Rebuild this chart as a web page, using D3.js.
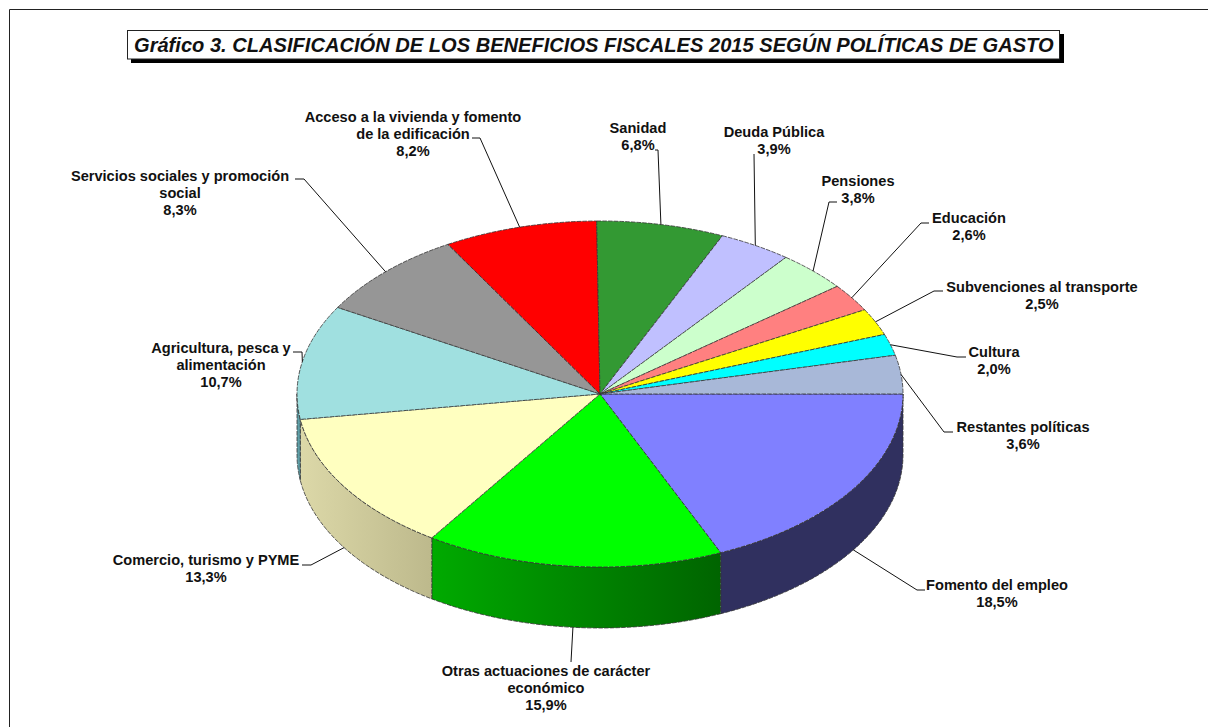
<!DOCTYPE html>
<html><head><meta charset="utf-8">
<style>html,body{margin:0;padding:0;background:#fff}svg{display:block}text{font-family:"Liberation Sans",Arial,sans-serif;font-weight:bold;fill:#111}</style>
<script src="https://cdn.jsdelivr.net/npm/d3@7"></script></head><body>
<script>
const categories=["Fomento del empleo","Otras actuaciones de carácter económico","Comercio, turismo y PYME","Agricultura, pesca y alimentación","Servicios sociales y promoción social","Acceso a la vivienda y fomento de la edificación","Sanidad","Deuda Pública","Pensiones","Educación","Subvenciones al transporte","Cultura","Restantes políticas"];
const values=[18.5,15.9,13.3,10.7,8.3,8.2,6.8,3.9,3.8,2.6,2.5,2.0,3.6];
const labelText=["18,5%","15,9%","13,3%","10,7%","8,3%","8,2%","6,8%","3,9%","3,8%","2,6%","2,5%","2,0%","3,6%"];
const labelLines=[["Fomento del empleo"],["Otras actuaciones de carácter","económico"],["Comercio, turismo y PYME"],["Agricultura, pesca y","alimentación"],["Servicios sociales y promoción","social"],["Acceso a la vivienda y fomento","de la edificación"],["Sanidad"],["Deuda Pública"],["Pensiones"],["Educación"],["Subvenciones al transporte"],["Cultura"],["Restantes políticas"]];
const topColors=["#8080ff","#00ff00","#ffffc0","#a0e0e0","#969696","#ff0000","#339933","#c0c0ff","#ccffcc","#ff8080","#ffff00","#00ffff","#a8b8d8"];
const wallFrom=["#30305f","#00aa00","#dcd8a8","#5f9ea6"];
const wallTo=["#30305f","#006400","#bdb98c","#5f9ea6"];
// label layout: text centre x, first baseline y, leader start and elbow
const labelX=[997,546,206,221,180,413,638,774,858,969,1042,994,1023];
const labelY=[590,676,565,353,181,122,133,137,186,223,292,357,432];
const leaderFrom=[[925,590],[571,662],[302,565],[293,352],[295,179],[472,138],[655,150],[754,154],[837,202],[929,223],[943,291],[966,357],[953,432]];
const leaderElbow=[[917,590],[571,662],[311,565],[302,352],[304,179],[480,138],[658,150],[754,154],[829,202],[921,223],[934,291],[957,357],[944,432]];
const title="Gráfico 3. CLASIFICACIÓN DE LOS BENEFICIOS FISCALES 2015 SEGÚN POLÍTICAS DE GASTO";

const W=1208,H=727,cx=600,cy=394,rx=303,ry=173,depth=61;
const svg=d3.select("body").append("svg").attr("width",W).attr("height",H);
const defs=svg.append("defs");

// frame: top and left rules only
svg.append("path").attr("d",`M9.5,${H}V9.5H${W}`).attr("fill","none").attr("stroke","#222").attr("stroke-width",1);

// title box
svg.append("rect").attr("x",131).attr("y",34).attr("width",933).attr("height",29).attr("fill","#000");
svg.append("rect").attr("x",127.5).attr("y",30.5).attr("width",932).attr("height",28.5).attr("fill","#fff").attr("stroke","#222").attr("stroke-width",1);
svg.append("text").attr("x",134).attr("y",52).attr("font-size",20.1).attr("font-style","italic").text(title);

const pie=d3.pie().sort(null).value(d=>d).startAngle(0).endAngle(2*Math.PI);
const arcs=pie(values);
const ex=a=>cx+rx*Math.cos(a), ey=a=>cy+ry*Math.sin(a);

// side wall, front half only
const dash="4.5 1.2";
arcs.forEach((d,i)=>{
  if(d.startAngle>=Math.PI) return;
  const a0=d.startAngle,a1=Math.min(d.endAngle,Math.PI);
  const steps=d3.range(0,41).map(k=>a0+(a1-a0)*k/40);
  const upper=steps.map(a=>[ex(a),ey(a)]);
  const lower=steps.slice().reverse().map(a=>[ex(a),ey(a)+depth]);
  const id="wall"+i;
  const g=defs.append("linearGradient").attr("id",id).attr("gradientUnits","userSpaceOnUse")
    .attr("x1",ex(a1)).attr("x2",ex(a0)).attr("y1",0).attr("y2",0);
  g.append("stop").attr("offset",0).attr("stop-color",wallFrom[i]);
  g.append("stop").attr("offset",1).attr("stop-color",wallTo[i]);
  svg.append("path").attr("d",d3.line()(upper.concat(lower))+"Z")
    .attr("fill",`url(#${id})`).attr("stroke","#333").attr("stroke-width",0.8).attr("stroke-dasharray",dash);
});

// top face, drawn through d3.arc and squashed into the ellipse
const arc=d3.arc().innerRadius(0).outerRadius(rx).startAngle(d=>d.startAngle+Math.PI/2).endAngle(d=>d.endAngle+Math.PI/2);
svg.append("g").attr("transform",`translate(${cx},${cy}) scale(1,${ry/rx})`)
  .selectAll("path").data(arcs).join("path")
  .attr("d",arc).attr("fill",(d,i)=>topColors[i])
  .attr("stroke","#333").attr("stroke-width",0.8).attr("stroke-dasharray",dash)
  .attr("vector-effect","non-scaling-stroke");

// leaders: anchor follows the slice's mid angle, on the wall where the slice faces front
const leader=d3.line();
arcs.forEach((d,i)=>{
  const m=(d.startAngle+d.endAngle)/2;
  const onWall=m>0.05&&m<Math.PI;
  const anchor=[ex(m),ey(m)+(onWall?depth:0)];
  svg.append("path").attr("d",leader([leaderFrom[i],leaderElbow[i],anchor]))
    .attr("fill","none").attr("stroke","#111").attr("stroke-width",1);
  const t=svg.append("text").attr("text-anchor","middle").attr("font-size",14.6);
  labelLines[i].concat(labelText[i]).forEach((s,k)=>{
    t.append("tspan").attr("x",labelX[i]).attr("y",labelY[i]+k*16.9).text(s);
  });
});
</script></body></html>
